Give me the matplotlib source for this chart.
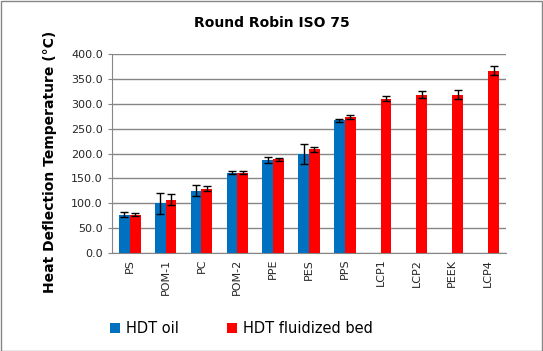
import matplotlib
matplotlib.use("Agg")
import matplotlib.pyplot as plt
import numpy as np

categories = ["PS", "POM-1", "PC", "POM-2", "PPE", "PES", "PPS", "LCP1", "LCP2", "PEEK", "LCP4"]
hdt_oil = [77, 100, 125, 161, 187, 200, 267, np.nan, np.nan, np.nan, np.nan]
hdt_oil_err = [5, 21, 11, 3, 6, 20, 3, 0, 0, 0, 0]
hdt_bed = [77, 107, 129, 161, 189, 209, 273, 310, 318, 318, 366]
hdt_bed_err = [3, 11, 5, 3, 3, 5, 4, 5, 7, 9, 9]
yticks = [0, 50, 100, 150, 200, 250, 300, 350, 400]

plt.rcParams['font.family'] = ['DejaVu Sans']
fig = plt.figure(figsize=(5.43, 3.51), dpi=100)
ax = fig.add_axes([0.206, 0.279, 0.726, 0.567])

x = np.arange(len(categories))
w = 0.3
oil_mask = ~np.isnan(np.array(hdt_oil, dtype=float))
ax.bar(x[oil_mask] - w / 2, np.array(hdt_oil)[oil_mask], w, color="#0070C0",
       yerr=np.array(hdt_oil_err)[oil_mask], capsize=3, error_kw=dict(elinewidth=1, capthick=1, ecolor="black"),
       label="HDT oil", zorder=3)
ax.bar(x + w / 2, hdt_bed, w, color="#FF0000", yerr=hdt_bed_err, capsize=3,
       error_kw=dict(elinewidth=1, capthick=1, ecolor="black"), label="HDT fluidized bed", zorder=3)

ax.set_xlim(-0.5, len(categories) - 0.5)
ax.set_ylim(0, 400)
ax.set_yticks(yticks)
ax.set_yticklabels([f"{v:.1f}" for v in yticks], fontsize=8, color="#262626")
ax.set_xticks(x)
ax.set_xticklabels(categories, rotation=90, fontsize=8, color="#262626")
ax.tick_params(axis='x', length=0, pad=4)
ax.tick_params(axis='y', length=3, color="#868686")
ax.yaxis.grid(True, color="#868686", linewidth=1, zorder=0)
ax.set_axisbelow(True)
for s in ["top", "right"]:
    ax.spines[s].set_visible(False)
ax.spines["left"].set_color("#868686")
ax.spines["bottom"].set_color("#868686")

fig.text(0.092, 0.54, "Heat Deflection Temperature (°C)", rotation=90, ha="center", va="center",
         fontsize=10, fontweight="bold")
fig.text(0.5, 0.935, "Round Robin ISO 75", ha="center", va="center", fontsize=10, fontweight="bold")

fig.legend(loc="center", bbox_to_anchor=(0.445, 0.063), ncol=2, frameon=False, fontsize=10.5,
           handlelength=0.7, handleheight=0.7, handletextpad=0.4, columnspacing=3.3)

border = plt.Rectangle((0.001, 0.001), 0.997, 0.997, transform=fig.transFigure, fill=False,
                       edgecolor="#868686", linewidth=1)
fig.patches.append(border)

fig.savefig("out.png", dpi=100)
